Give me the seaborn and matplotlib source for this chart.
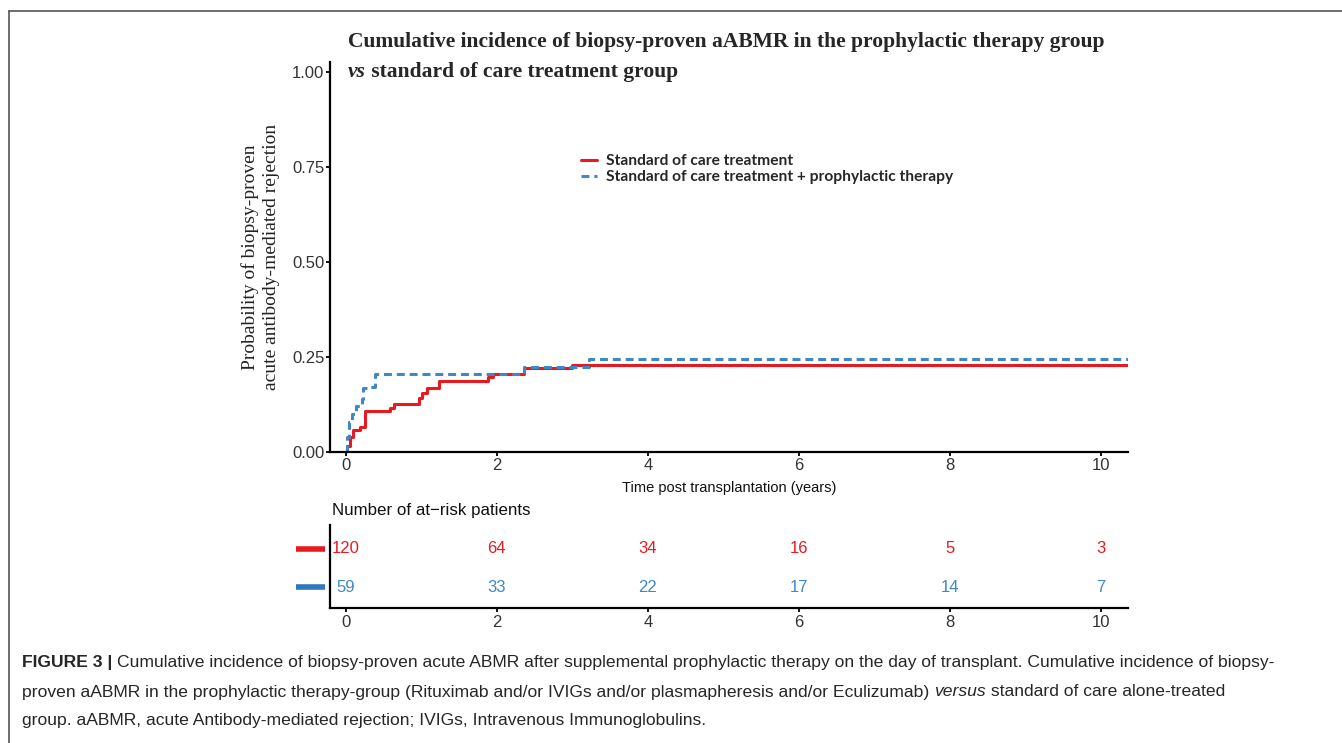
import numpy as np
import pandas as pd
import matplotlib.pyplot as plt
import seaborn as sns
from matplotlib.lines import Line2D

# ----------------------------------------------------
# DATA
# ----------------------------------------------------

soc_label = "Standard of care treatment"
proph_label = "Standard of care treatment + prophylactic therapy"

soc_time = [0, 0.02, 0.05, 0.10, 0.19, 0.25, 0.59, 0.64, 0.97, 1.01, 1.08, 1.23, 1.88, 1.95, 2.36, 3.00, 10.40]
soc_prob = [0, 0.017, 0.040, 0.058, 0.066, 0.108, 0.117, 0.126, 0.143, 0.155, 0.168, 0.187, 0.196, 0.204, 0.220, 0.229, 0.229]

proph_time = [0, 0.02, 0.04, 0.08, 0.14, 0.21, 0.23, 0.32, 0.39, 2.36, 3.22, 10.40]
proph_prob = [0, 0.040, 0.080, 0.100, 0.120, 0.140, 0.168, 0.172, 0.204, 0.224, 0.245, 0.245]

risk_times = [0, 2, 4, 6, 8, 10]
risk_soc = [120, 64, 34, 16, 5, 3]
risk_proph = [59, 33, 22, 17, 14, 7]

x_ticks = [0, 2, 4, 6, 8, 10]
y_ticks = [0.0, 0.25, 0.5, 0.75, 1.0]
y_ticklabels = ["0.00", "0.25", "0.50", "0.75", "1.00"]

RED = "#E8191F"
BLUE = "#3F88C8"
TICK_COL = "#333333"

# ----------------------------------------------------
# STYLE
# ----------------------------------------------------

sns.set_style("white")
plt.rcParams["font.family"] = ["Liberation Sans", "DejaVu Sans"]

W, H = 1342, 743
fig = plt.figure(figsize=(W / 100, H / 100), dpi=100)


def fx(px):
    return px / W


def fy(py):
    return 1 - py / H


# ----------------------------------------------------
# MAIN CUMULATIVE INCIDENCE PLOT
# ----------------------------------------------------

ax = fig.add_axes([fx(330), fy(452), fx(1128) - fx(330), fy(62) - fy(452)])

soc_df = pd.DataFrame({"time": soc_time, "prob": soc_prob})
proph_df = pd.DataFrame({"time": proph_time, "prob": proph_prob})

sns.lineplot(data=soc_df, x="time", y="prob", ax=ax, estimator=None, sort=False,
             drawstyle="steps-post", color=RED, lw=2.2, label=soc_label)
sns.lineplot(data=proph_df, x="time", y="prob", ax=ax, estimator=None, sort=False,
             drawstyle="steps-post", color=BLUE, lw=2.2, linestyle=(0, (2.6, 1.6)),
             label=proph_label)

ax.set_xlim(-0.21, 10.36)
ax.set_ylim(0, 1.026)
ax.set_xticks(x_ticks)
ax.set_yticks(y_ticks)
ax.set_yticklabels(y_ticklabels)
ax.tick_params(axis="both", length=3, width=1.3, color="black", labelsize=12,
               labelcolor=TICK_COL, pad=1, bottom=True, left=True)
for side in ["top", "right"]:
    ax.spines[side].set_visible(False)
for side in ["left", "bottom"]:
    ax.spines[side].set_color("black")
    ax.spines[side].set_linewidth(1.6)

ax.set_xlabel("Time post transplantation (years)", fontsize=10.5, labelpad=6, color="#111111")
ax.set_ylabel("Probability of biopsy-proven\nacute antibody-mediated rejection",
              fontsize=14, family="Liberation Serif", labelpad=9, color="#222222",
              linespacing=1.25)

leg = ax.legend(loc="upper left", bbox_to_anchor=(fx(575), fy(148)),
                bbox_transform=fig.transFigure, frameon=False, handlelength=1.0,
                handletextpad=0.6, labelspacing=0.12, borderaxespad=0,
                prop={"family": "Lato", "weight": "bold", "size": 11.2})

# ----------------------------------------------------
# AT-RISK TABLE
# ----------------------------------------------------

tx = fig.add_axes([fx(330), fy(608), fx(1128) - fx(330), fy(525) - fy(608)])
tx.set_xlim(-0.21, 10.36)
tx.set_ylim(0.45, 2.63)
for t, n in zip(risk_times, risk_soc):
    tx.text(t, 2, str(n), color=RED, ha="center", va="center", fontsize=12)
for t, n in zip(risk_times, risk_proph):
    tx.text(t, 1, str(n), color=BLUE, ha="center", va="center", fontsize=12)

tx.hlines([2, 1], -0.043, -0.006, colors=[RED, "#2F78BC"], lw=4,
          transform=tx.get_yaxis_transform(), clip_on=False)

tx.set_xticks(x_ticks)
tx.set_yticks([])
tx.tick_params(axis="x", length=3, width=1.3, color="black", labelsize=12,
               labelcolor=TICK_COL, pad=2, bottom=True)
for side in ["top", "right"]:
    tx.spines[side].set_visible(False)
for side in ["left", "bottom"]:
    tx.spines[side].set_color("black")
    tx.spines[side].set_linewidth(1.6)

fig.text(fx(332), fy(510), "Number of at\u2212risk patients", fontsize=12.2,
         va="center", ha="left", color="#111111")

# ----------------------------------------------------
# TITLE
# ----------------------------------------------------

fig.text(fx(348), fy(42), "Cumulative incidence of biopsy-proven aABMR in the prophylactic therapy group",
         family="Liberation Serif", weight="bold", fontsize=15.5, va="center", ha="left")
t_vs = fig.text(fx(348), fy(77), "vs", family="Liberation Serif", weight="bold",
                style="italic", fontsize=15.5, va="baseline", ha="left")
ax.annotate(" standard of care treatment group", xy=(1, 0), xycoords=t_vs,
            va="bottom", ha="left", family="Liberation Serif", weight="bold",
            fontsize=15.5, annotation_clip=False)

# ----------------------------------------------------
# FRAME + CAPTION
# ----------------------------------------------------

fig.add_artist(Line2D([fx(9), 1], [fy(11), fy(11)], color="#555555", lw=1.2))
fig.add_artist(Line2D([fx(9), fx(9)], [0, fy(11)], color="#555555", lw=1.2))

cap_size = 12.6
c1 = fig.text(fx(22), fy(663), "FIGURE 3 | ", weight="bold", fontsize=cap_size,
              va="center", ha="left")
ax.annotate("Cumulative incidence of biopsy-proven acute ABMR after supplemental prophylactic "
            "therapy on the day of transplant. Cumulative incidence of biopsy-",
            xy=(1, 0.5), xycoords=c1, va="center", ha="left", fontsize=cap_size,
            annotation_clip=False)
c2 = fig.text(fx(22), fy(692), "proven aABMR in the prophylactic therapy-group (Rituximab and/or IVIGs "
              "and/or plasmapheresis and/or Eculizumab) ", fontsize=cap_size,
              va="center", ha="left")
c2b = ax.annotate("versus", xy=(1, 0.5), xycoords=c2, va="center", ha="left",
                  fontsize=cap_size, style="italic", annotation_clip=False)
ax.annotate(" standard of care alone-treated", xy=(1, 0.5), xycoords=c2b, va="center",
            ha="left", fontsize=cap_size, annotation_clip=False)
fig.text(fx(22), fy(720), "group. aABMR, acute Antibody-mediated rejection; IVIGs, Intravenous "
         "Immunoglobulins.", fontsize=cap_size, va="center", ha="left")

fig.savefig("out.png", dpi=100)
